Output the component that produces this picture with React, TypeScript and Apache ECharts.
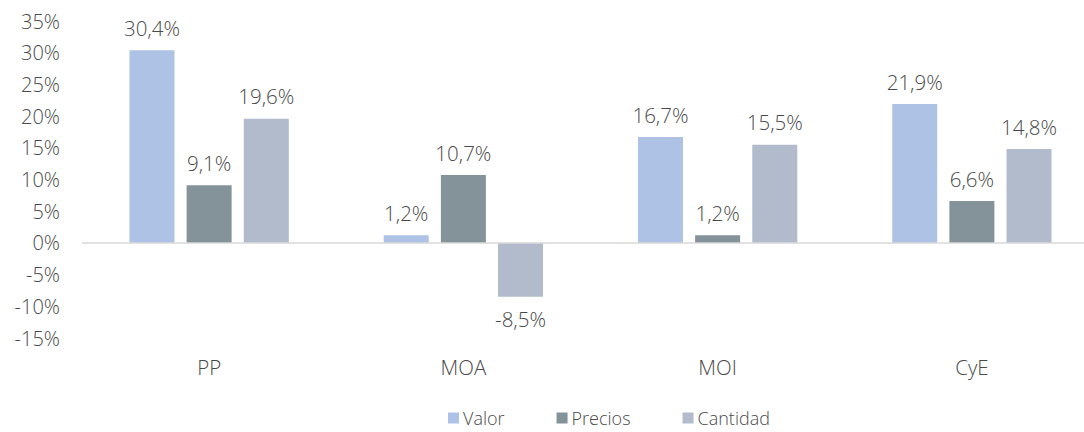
import React, { useEffect, useRef } from "react";
import * as echarts from "echarts";

const categories = ["PP", "MOA", "MOI", "CyE"];
const valor = [30.4, 1.2, 16.7, 21.9];
const precios = [9.1, 10.7, 1.2, 6.6];
const cantidad = [19.6, -8.5, 15.5, 14.8];
const seriesNames = ["Valor", "Precios", "Cantidad"];
const colors = ["#aec2e5", "#84929a", "#b1bbcc"];

const FONT = "'Open Sans', 'Noto Sans', sans-serif";
const TXT = "#4a4a4a";

function fmt(v: number) {
  return v.toFixed(1).replace(".", ",") + "%";
}

export default function App() {
  const ref = useRef<HTMLDivElement>(null);
  useEffect(() => {
    if (!ref.current) return;
    const chart = echarts.init(ref.current, undefined, { renderer: "svg" });
    const mk = (name: string, data: number[], color: string, idx: number) => ({
      name,
      type: "bar",
      barWidth: 45,
      barGap: "27%",
      itemStyle: { color },
      data: data.map((v) => ({
        value: v,
        label: { position: v < 0 ? "bottom" : "top" },
      })),
      label: {
        show: true,
        distance: 12,
        fontFamily: FONT,
        fontWeight: 300,
        fontSize: 20.5,
        color: TXT,
        formatter: (p: any) => fmt(p.value),
      },
      ...(idx === 0
        ? {
            markLine: {
              silent: true,
              symbol: "none",
              label: { show: false },
              lineStyle: { color: "#d9d9d9", width: 1.5, type: "solid" },
              data: [{ yAxis: 0 }],
            },
          }
        : {}),
    });
    chart.setOption({
      animation: false,
      grid: { left: 82, right: 1, top: 21, bottom: 94 },
      legend: {
        top: 409,
        left: 448,
        padding: 0,
        itemWidth: 11,
        itemHeight: 11,
        itemGap: 52,
        itemStyle: { borderWidth: 0 },
        icon: "rect",
        textStyle: {
          fontFamily: FONT,
          fontWeight: 300,
          fontSize: 18,
          lineHeight: 16,
          color: TXT,
          padding: [0, 0, 0, -1],
        },
        data: seriesNames,
      },
      xAxis: {
        type: "category",
        data: categories,
        axisLine: { show: false, onZero: false },
        axisTick: { show: false },
        axisLabel: { fontFamily: FONT, fontWeight: 300, fontSize: 20.5, color: TXT, margin: 18 },
      },
      yAxis: {
        type: "value",
        min: -15,
        max: 35,
        interval: 5,
        splitLine: { show: false },
        axisLine: { show: false },
        axisTick: { show: false },
        axisLabel: {
          fontFamily: FONT,
          fontWeight: 300,
          fontSize: 20,
          color: TXT,
          margin: 22,
          formatter: (v: number) => v + "%",
        },
      },
      series: [
        mk(seriesNames[0], valor, colors[0], 0),
        mk(seriesNames[1], precios, colors[1], 1),
        mk(seriesNames[2], cantidad, colors[2], 2),
      ],
    });
    return () => chart.dispose();
  }, []);
  return (
    <div
      ref={ref}
      style={{ position: "fixed", left: 0, top: 0, width: 1100, height: 432, background: "#fff" }}
    />
  );
}
